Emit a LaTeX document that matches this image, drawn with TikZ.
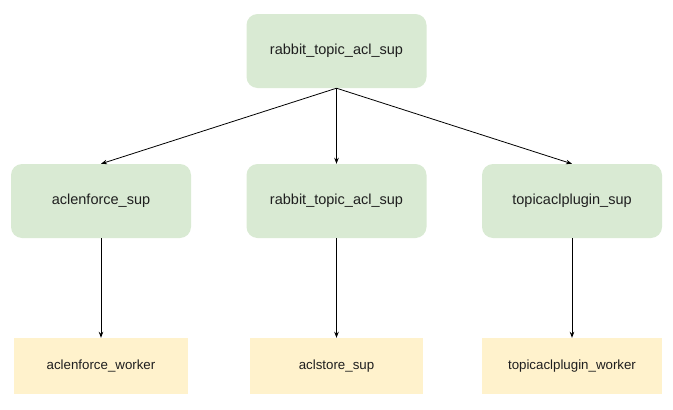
\documentclass[tikz,border=0pt]{standalone}
\usepackage{fontspec}
\setmainfont{Liberation Sans}
\usetikzlibrary{arrows.meta}
\definecolor{supgreen}{HTML}{D9EAD3}
\definecolor{workyellow}{HTML}{FFF2CC}
\definecolor{txt}{HTML}{1F1F1F}
\begin{document}
\begin{tikzpicture}[x=1pt,y=-1pt,
  supbox/.style={fill=supgreen,draw=none,rounded corners=11pt,minimum width=180pt,minimum height=74pt,inner sep=0pt,text=txt,font=\fontsize{14.5}{17}\selectfont},
  workbox/.style={fill=workyellow,draw=none,minimum height=56pt,inner sep=0pt,text=txt,font=\fontsize{13.3}{16}\selectfont},
  conn/.style={draw=black,line width=0.8pt,-{Stealth[length=6pt,width=4.5pt]}}]
\useasboundingbox (0,0) rectangle (673,410);
\node[supbox] (root) at (336.5,51) {rabbit\_topic\_acl\_sup};
\node[supbox] (ae) at (101,201) {aclenforce\_sup};
\node[supbox] (rt) at (336.5,201) {rabbit\_topic\_acl\_sup};
\node[supbox] (tp) at (572,201) {topicaclplugin\_sup};
\node[workbox,minimum width=174pt] (aew) at (101,366) {aclenforce\_worker};
\node[workbox,minimum width=173pt] (as) at (336.5,366) {aclstore\_sup};
\node[workbox,minimum width=180pt] (tpw) at (572,366) {topicaclplugin\_worker};
\draw[conn] (root.south) -- (ae.north);
\draw[conn] (root.south) -- (rt.north);
\draw[conn] (root.south) -- (tp.north);
\draw[conn] (ae.south) -- (aew.north);
\draw[conn] (rt.south) -- (as.north);
\draw[conn] (tp.south) -- (tpw.north);
\end{tikzpicture}
\end{document}
